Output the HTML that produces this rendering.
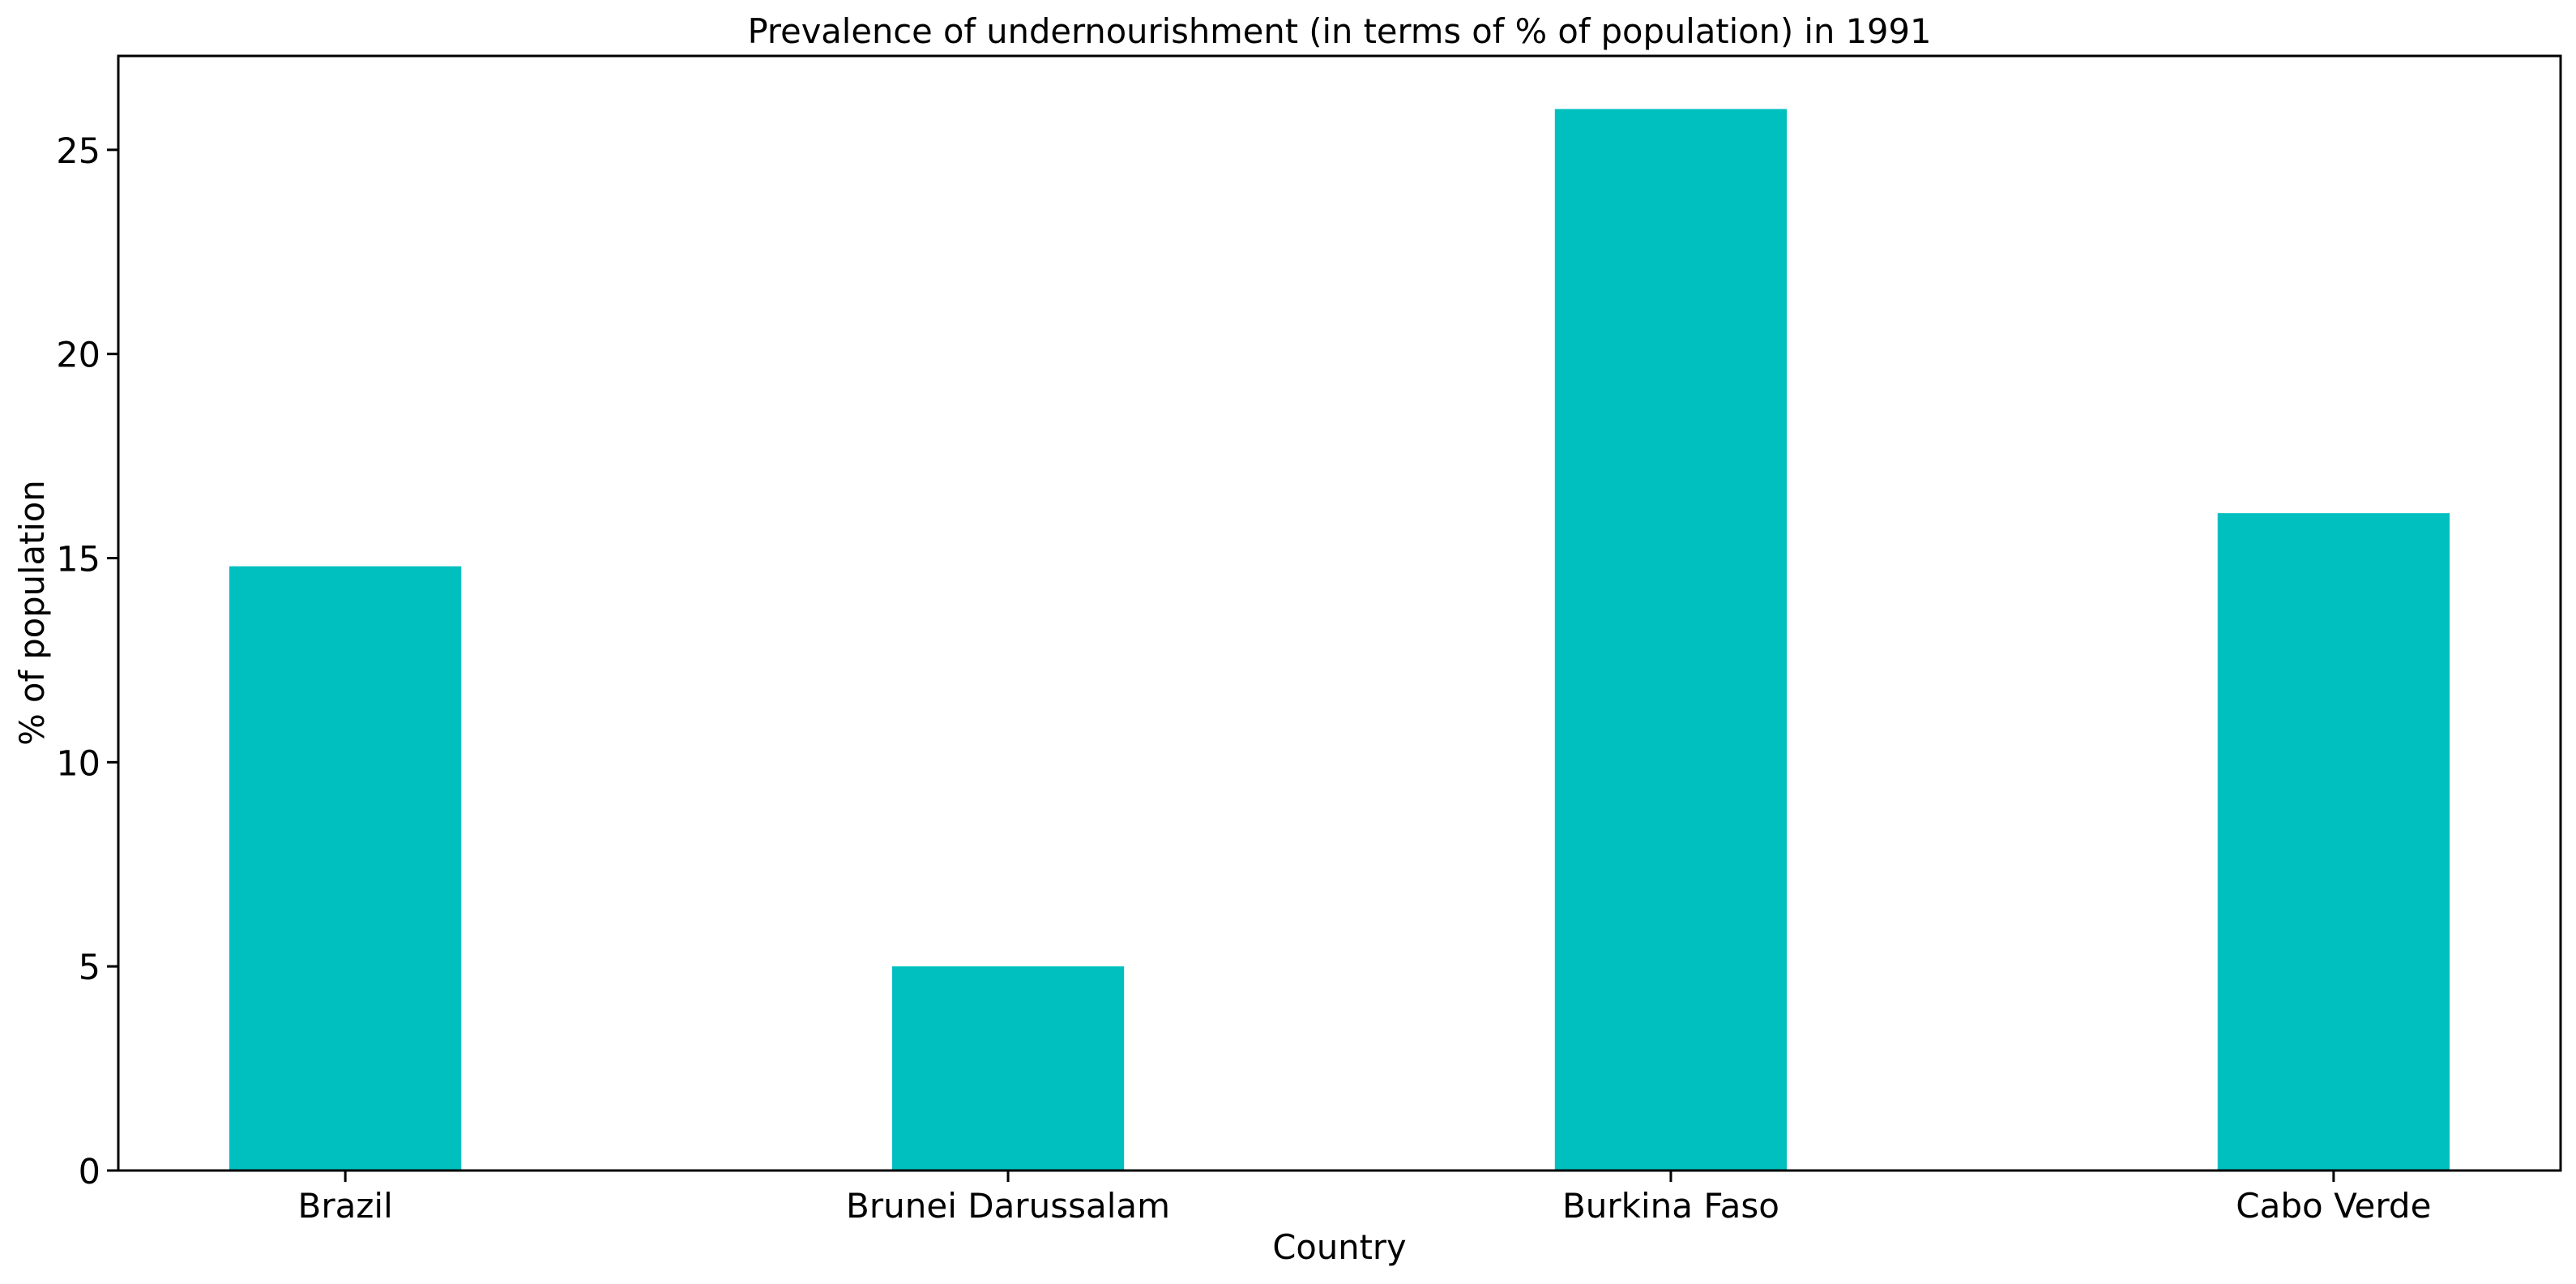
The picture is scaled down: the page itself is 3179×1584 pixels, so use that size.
<!DOCTYPE html>
<html><head><meta charset="utf-8"><style>
html,body{margin:0;padding:0;background:#fff;}
svg text{font-family:"DejaVu Sans","Liberation Sans",sans-serif;fill:#000;}
</style></head><body>
<svg id="chart" width="3179" height="1579" xmlns="http://www.w3.org/2000/svg">
<text x="1653" y="53" font-size="41.6" text-anchor="middle">Prevalence of undernourishment (in terms of % of population) in 1991</text>
<g id="bars"></g><g id="xticks"></g><g id="yticks"></g>
<rect x="146" y="69" width="3014" height="1375" fill="none" stroke="#000" stroke-width="3"/>
<text x="1653" y="1553" font-size="41.6" text-anchor="middle">Country</text>
<text x="0" y="0" font-size="41.6" text-anchor="middle" transform="translate(54,756) rotate(-90)">% of population</text>
</svg>
<script>
const categories = ["Brazil", "Brunei Darussalam", "Burkina Faso", "Cabo Verde"];
const values = [14.8, 5.0, 26.0, 16.1];
const yTicks = [0, 5, 10, 15, 20, 25];
const NS = "http://www.w3.org/2000/svg";
const L = 146, R = 3160, T = 69, B = 1444;
const xMin = -0.3425, xMax = categories.length - 1 + 0.3425;
const yMax = Math.max(...values) * 1.05;
const barW = 0.35;
function xs(v){ return L + (v - xMin) / (xMax - xMin) * (R - L); }
function ys(v){ return B - v / yMax * (B - T); }
function mk(tag, attrs, parent){ const e = document.createElementNS(NS, tag); for (const k in attrs) e.setAttribute(k, attrs[k]); parent.appendChild(e); return e; }
const gb = document.getElementById('bars'), gx = document.getElementById('xticks'), gy = document.getElementById('yticks');
categories.forEach((c, i) => {
  const r = mk('rect', {x: xs(i - barW/2), y: ys(values[i]), width: xs(i + barW/2) - xs(i - barW/2), height: B - ys(values[i]), fill: '#00bfbf'}, gb);
  
  
  const t = mk('line', {x1: xs(i), x2: xs(i), y1: B, y2: B + 14, stroke: '#000', 'stroke-width': 3}, gx);
  
  
  const lb = mk('text', {x: xs(i), y: B + 58, 'font-size': 42, 'text-anchor': 'middle'}, gx);
  lb.textContent = c;
  
  
});
yTicks.forEach(v => {
  const t = mk('line', {x1: L - 14, x2: L, y1: ys(v), y2: ys(v), stroke: '#000', 'stroke-width': 3}, gy);
  
  
  const lb = mk('text', {x: L - 22, y: ys(v) + 16, 'font-size': 43, 'text-anchor': 'end'}, gy);
  lb.textContent = v;
  
  
});
</script>
</body></html>
